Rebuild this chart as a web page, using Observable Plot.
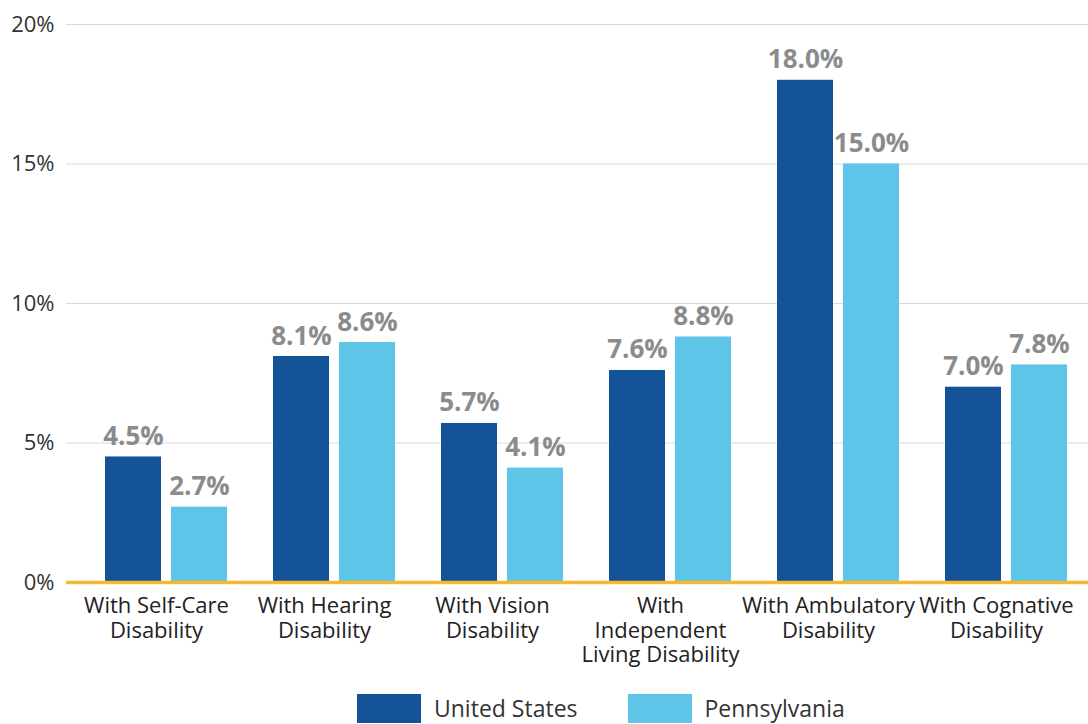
<!DOCTYPE html>
<html>
<head>
<meta charset="utf-8">
<script src="https://cdn.jsdelivr.net/npm/d3@7"></script>
<script src="https://cdn.jsdelivr.net/npm/@observablehq/plot@0.6"></script>
<style>
  html, body { margin: 0; padding: 0; background: #fff; font-family: "Open Sans", sans-serif; }
  #legend { display: flex; align-items: center; padding-left: 357px; height: 40px; color: #333; font-size: 23px; }
  .item { display: flex; align-items: center; }
  .sw { width: 64px; height: 29px; margin-right: 13px; }
</style>
</head>
<body>
<div id="chart"></div>
<div id="legend"></div>
<script>
const categories = ["Self-Care", "Hearing", "Vision", "Independent Living", "Ambulatory", "Cognative"];
const tickLabels = ["With Self-Care\nDisability", "With Hearing\nDisability", "With Vision\nDisability", "With\nIndependent\nLiving Disability", "With Ambulatory\nDisability", "With Cognative\nDisability"];
const seriesNames = ["United States", "Pennsylvania"];
const usValues = [4.5, 8.1, 5.7, 7.6, 18.0, 7.0];
const paValues = [2.7, 8.6, 4.1, 8.8, 15.0, 7.8];
const colors = ["#155399", "#5ec5e8"];
const yTicks = [0, 5, 10, 15, 20];

const us = categories.map((c, i) => ({category: c, series: seriesNames[0], value: usValues[i]}));
const pa = categories.map((c, i) => ({category: c, series: seriesNames[1], value: paValues[i]}));
const labelOf = new Map(categories.map((c, i) => [c, tickLabels[i]]));

const chart = Plot.plot({
  width: 1088,
  height: 688,
  marginLeft: 66,
  marginRight: 0,
  marginTop: 24,
  marginBottom: 106,
  style: {fontFamily: "Open Sans", background: "#fff"},
  x: {domain: categories, range: [82, 1090], padding: 0, label: null},
  y: {domain: [0, 20], label: null},
  color: {domain: seriesNames, range: colors},
  marks: [
    Plot.ruleY(yTicks.filter(d => d > 0), {stroke: "#d9d9d9", strokeWidth: 1.2}),
    Plot.axisY({ticks: yTicks, tickSize: 0, tickPadding: 12, tickFormat: d => d + "%", fontSize: 22, color: "#333", label: null}),
    Plot.axisX({tickSize: 0, tickPadding: 13, dx: -10, tickFormat: d => labelOf.get(d), fontSize: 22, lineHeight: 1.12, color: "#222", label: null}),
    Plot.barY(us, {x: "category", y: "value", fill: colors[0], insetLeft: 23, insetRight: 89}),
    Plot.barY(pa, {x: "category", y: "value", fill: colors[1], insetLeft: 89, insetRight: 23}),
    Plot.text(us, {x: "category", y: "value", text: d => d.value.toFixed(1) + "%", dx: -33, dy: -12, lineAnchor: "bottom", fill: "#8a8b8d", fontSize: 26, fontWeight: "bold"}),
    Plot.text(pa, {x: "category", y: "value", text: d => d.value.toFixed(1) + "%", dx: 33, dy: -12, lineAnchor: "bottom", fill: "#8a8b8d", fontSize: 26, fontWeight: "bold"}),
    Plot.ruleY([0], {stroke: "#f5b82e", strokeWidth: 3.5})
  ]
});
document.getElementById("chart").appendChild(chart);

const legend = document.getElementById("legend");
seriesNames.forEach((name, i) => {
  const item = document.createElement("div");
  item.className = "item";
  if (i > 0) item.style.marginLeft = "50px";
  const sw = document.createElement("div");
  sw.className = "sw";
  sw.style.background = colors[i];
  const t = document.createElement("span");
  t.textContent = name;
  item.appendChild(sw);
  item.appendChild(t);
  legend.appendChild(item);
});
</script>
</body>
</html>
